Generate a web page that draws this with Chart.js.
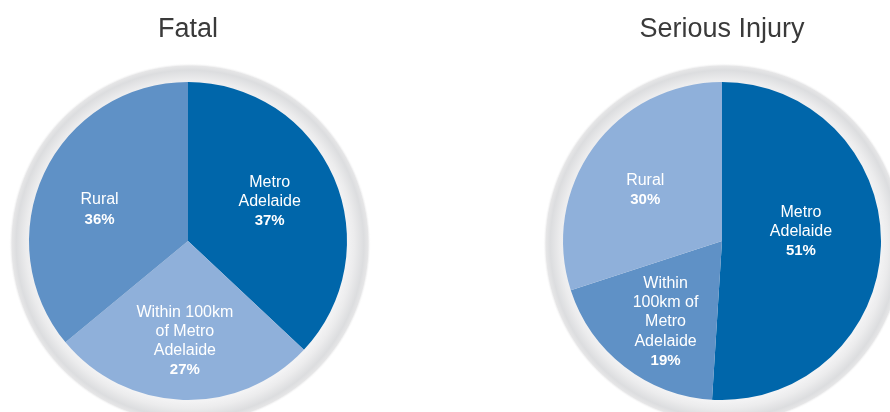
<!DOCTYPE html>
<html>
<head>
<meta charset="utf-8">
<script src="https://cdn.jsdelivr.net/npm/chart.js@4"></script>
<style>
  html, body { margin: 0; padding: 0; background: #fff; overflow: hidden; }
  body { width: 890px; height: 412px; position: relative; }
  .pie { position: absolute; top: 0; height: 412px; }
</style>
</head>
<body>
<div class="pie" style="left:0;width:376px"><canvas id="fatalChart"></canvas></div>
<div class="pie" style="left:532px;width:358px"><canvas id="seriousChart"></canvas></div>
<script>
// Crash share by region
var regions = ['Metro Adelaide', 'Within 100km of Metro Adelaide', 'Rural'];

var fatal_labels = [['Metro', 'Adelaide'], ['Within 100km', 'of Metro', 'Adelaide'], ['Rural']];
var fatal_values = [37, 27, 36];

var serious_labels = [['Metro', 'Adelaide'], ['Within', '100km of', 'Metro', 'Adelaide'], ['Rural']];
var serious_values = [51, 19, 30];

var FONT = '"Liberation Sans", Arial, Helvetica, sans-serif';

// grey bevelled ring behind each pie
var haloPlugin = {
  id: 'halo',
  beforeDatasetsDraw: function (chart) {
    var arc = chart.getDatasetMeta(0).data[0];
    if (!arc) return;
    var p = arc.getProps(['x', 'y', 'outerRadius'], true);
    var ctx = chart.ctx;
    var cx = p.x + 2, cy = p.y + 3, r = p.outerRadius;
    var g = ctx.createRadialGradient(cx, cy, r - 2, cx, cy, r + 22);
    g.addColorStop(0, '#f3f3f4');
    g.addColorStop(0.3, '#ececed');
    g.addColorStop(0.7, '#dcdddf');
    g.addColorStop(0.88, '#e6e6e7');
    g.addColorStop(1, 'rgba(255,255,255,0)');
    ctx.save();
    ctx.fillStyle = g;
    ctx.beginPath();
    ctx.arc(cx, cy, r + 22, 0, Math.PI * 2);
    ctx.fill();
    ctx.restore();
  }
};

// slice name plus bold percentage inside each slice
var sliceLabelPlugin = {
  id: 'sliceLabels',
  afterDatasetsDraw: function (chart, args, opts) {
    var ctx = chart.ctx;
    var ds = chart.data.datasets[0];
    chart.getDatasetMeta(0).data.forEach(function (arc, i) {
      var p = arc.getProps(['x', 'y', 'startAngle', 'endAngle', 'outerRadius'], true);
      var mid = (p.startAngle + p.endAngle) / 2 + (opts.angleShift[i] || 0);
      var r = p.outerRadius * opts.radius[i];
      var x = p.x + Math.cos(mid) * r;
      var y = p.y + Math.sin(mid) * r;
      var lines = opts.names[i];
      var lh = 19.3;
      var total = lines.length + 1;
      var y0 = y - (total - 1) * lh / 2;
      ctx.save();
      ctx.fillStyle = '#ffffff';
      ctx.textAlign = 'center';
      ctx.textBaseline = 'middle';
      ctx.font = '16px ' + FONT;
      lines.forEach(function (t, k) {
        ctx.fillText(t, x, y0 + k * lh);
      });
      ctx.font = 'bold 15px ' + FONT;
      ctx.fillText(ds.data[i] + '%', x, y0 + lines.length * lh);
      ctx.restore();
    });
  }
};

function makePie(id, title, values, names, colors, radius, angleShift, padLeft) {
  return new Chart(document.getElementById(id).getContext('2d'), {
    type: 'pie',
    data: {
      labels: regions,
      datasets: [{
        data: values,
        backgroundColor: colors,
        borderWidth: 0,
        radius: 159
      }]
    },
    options: {
      responsive: true,
      maintainAspectRatio: false,
      animation: false,
      events: [],
      layout: { padding: { left: padLeft } },
      plugins: {
        legend: { display: false },
        tooltip: { enabled: false },
        title: {
          display: true,
          text: title,
          color: '#3a3a3a',
          font: { family: FONT, size: 27, weight: 'normal' },
          padding: { top: 13, bottom: 24.6 }
        },
        sliceLabels: { names: names, radius: radius, angleShift: angleShift }
      }
    },
    plugins: [haloPlugin, sliceLabelPlugin]
  });
}

var DARK = '#0066aa', MID = '#5f91c6', LIGHT = '#8fb0da';

var fatalChart = makePie('fatalChart', 'Fatal', fatal_values, fatal_labels,
  [DARK, LIGHT, MID], [0.57, 0.63, 0.59], [-0.04, 0, -0.1], 0);

var seriousChart = makePie('seriousChart', 'Serious Injury', serious_values, serious_labels,
  [DARK, MID, LIGHT], [0.5, 0.62, 0.58], [-0.15, -0.05, -0.04], 22);
</script>
</body>
</html>
